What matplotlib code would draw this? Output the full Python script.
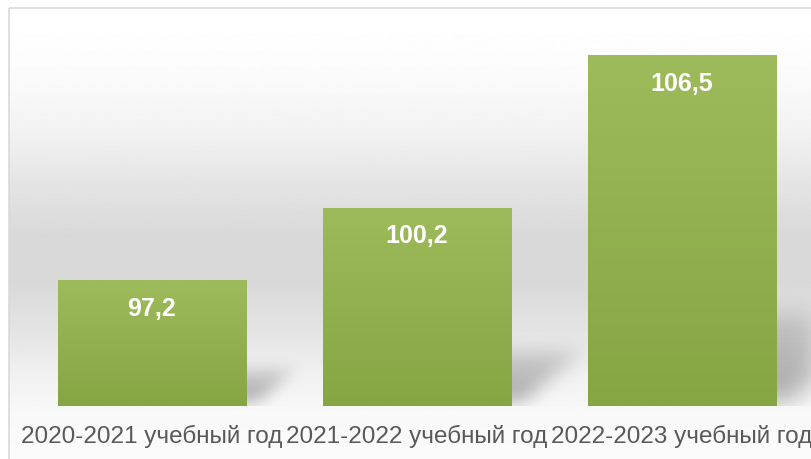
import numpy as np
import matplotlib.pyplot as plt
from matplotlib.colors import LinearSegmentedColormap
from matplotlib.patches import Rectangle

categories = ['2020-2021 учебный год', '2021-2022 учебный год', '2022-2023 учебный год']
values = [97.2, 100.2, 106.5]
value_labels = ['97,2', '100,2', '106,5']

W, H = 811, 460
plt.rcParams['font.family'] = ['Liberation Sans', 'DejaVu Sans']

fig = plt.figure(figsize=(W / 100, H / 100), dpi=100)
fig.patch.set_facecolor('white')

# фон с вертикальным градиентом и рамкой
bg = fig.add_axes([0, 0, 1, 1], zorder=0)
bg.set_xlim(0, W)
bg.set_ylim(H, 0)
bg.axis('off')
stops_y = [9, 60, 120, 180, 230, 280, 330, 380, 410, 460]
stops_v = [255, 252, 243, 228, 217, 217, 228, 242, 248, 251]
grad = np.interp(np.arange(H), stops_y, stops_v)[:, None] / 255.0
bg.imshow(grad, cmap='gray', vmin=0, vmax=1, aspect='auto',
          extent=(9, W, H, 9), interpolation='bilinear')
bg.add_patch(Rectangle((9, 9), W, H, fill=False, edgecolor='#d9d9d9', lw=1.2))

ax = fig.add_axes([19.5 / W, (H - 407) / H, 795 / W, 397 / H], zorder=1)
ax.patch.set_alpha(0)
x = np.arange(len(categories))
ymin, ymax = 92, 108.4
ax.set_xlim(-0.5, len(categories) - 0.5)
ax.set_ylim(ymin, ymax)

bars = ax.bar(x, values, width=0.71, color='#92b250', zorder=3)

# градиент внутри столбиков
bar_cmap = LinearSegmentedColormap.from_list('g', ['#86a543', '#9dbb5a'])
for b in bars:
    x0 = b.get_x()
    x1 = x0 + b.get_width()
    top = b.get_height()
    im = ax.imshow(np.linspace(0, 1, 100)[:, None], cmap=bar_cmap, aspect='auto',
                   origin='lower', extent=(x0, x1, ymin, top), zorder=3.5)
    im.set_clip_path(b)
    b.set_facecolor('none')
ax.set_xlim(-0.5, len(categories) - 0.5)
ax.set_ylim(ymin, ymax)

# тени справа от столбиков
bbox = ax.get_window_extent()
gw, gh = int(round(bbox.width)), int(round(bbox.height))
px = np.arange(gw)[None, :]
py = np.arange(gh)[:, None]
shadow = np.zeros((gh, gw))


def blur(a, sigma):
    r = int(3 * sigma)
    k = np.exp(-0.5 * (np.arange(-r, r + 1) / sigma) ** 2)
    k /= k.sum()
    a = np.apply_along_axis(lambda m: np.convolve(m, k, mode='same'), 1, a)
    a = np.apply_along_axis(lambda m: np.convolve(m, k, mode='same'), 0, a)
    return a


for b in bars:
    (l, bot), (r, t) = ax.transData.transform([(b.get_x(), ymin),
                                              (b.get_x() + b.get_width(), b.get_height())])
    l -= bbox.x0
    r -= bbox.x0
    h = t - bbox.y0
    y0, y1 = 5, 5 + 0.25 * h
    s = 0.3 * h
    tt = (py - y0) / (y1 - y0)
    inside = (tt >= 0) & (tt <= 1) & (px >= l + 10 + tt * s) & (px <= r + 12 + tt * s)
    layer = np.where(inside, 1 - 0.6 * tt, 0.0)
    shadow = np.maximum(shadow, blur(layer, 5 + 0.02 * h))

rgba = np.zeros((gh, gw, 4))
rgba[..., 3] = np.clip(shadow, 0, 1) * 0.32
ax.imshow(rgba, origin='lower', aspect='auto', zorder=2,
          extent=(-0.5, len(categories) - 0.5, ymin, ymax))
ax.set_xlim(-0.5, len(categories) - 0.5)
ax.set_ylim(ymin, ymax)

for xi, v, lbl in zip(x, values, value_labels):
    ax.annotate(lbl, (xi, v), xytext=(0, -20), textcoords='offset points',
                ha='center', va='center', color='white', fontsize=18,
                fontweight='bold', zorder=5)

ax.set_xticks(x, categories)
ax.set_yticks([])
ax.tick_params(axis='x', length=0, labelsize=17.5, labelcolor='#595959', pad=12.5)
for sp in ax.spines.values():
    sp.set_visible(False)

fig.savefig('out.png', dpi=100)
